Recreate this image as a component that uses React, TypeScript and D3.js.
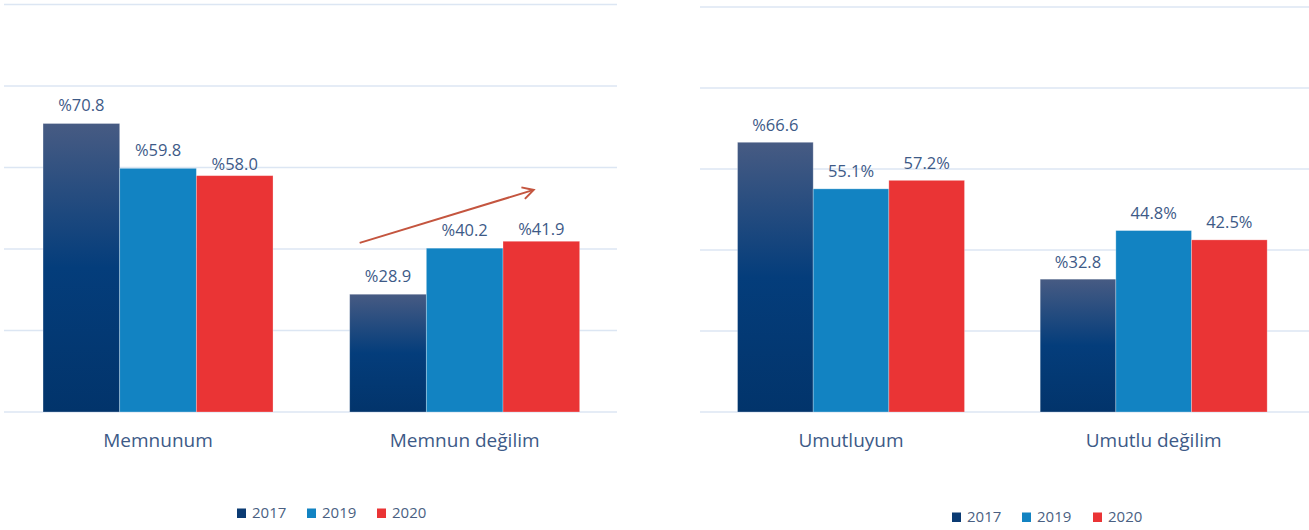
import React from "react";
import * as d3 from "d3";

const years = ["2017", "2019", "2020"];
const leftCategories = ["Memnunum", "Memnun değilim"];
const leftValues = [
  [70.8, 59.8, 58.0],
  [28.9, 40.2, 41.9],
];
const leftLabels = [
  ["%70.8", "%59.8", "%58.0"],
  ["%28.9", "%40.2", "%41.9"],
];
const rightCategories = ["Umutluyum", "Umutlu değilim"];
const rightValues = [
  [66.6, 55.1, 57.2],
  [32.8, 44.8, 42.5],
];
const rightLabels = [
  ["%66.6", "55.1%", "57.2%"],
  ["%32.8", "44.8%", "42.5%"],
];
const yTicks = [0, 20, 40, 60, 80, 100];

const W = 1309;
const H = 530;
const FONT = "'Open Sans', sans-serif";
const TEXT = "#3D5A87";
const GRID = "#DCE6F3";
const FILLS = ["url(#grad2017)", "#1283C2", "#EA3435"];
const LEG_FILLS = ["#0B3B73", "#1283C2", "#EA3435"];

type PanelProps = {
  cats: string[];
  vals: number[][];
  labels: string[][];
  xRange: [number, number];
  yRange: [number, number];
  gridX: [number, number];
  labelGap: number[];
  legendX: number[];
  legendBaseline: number;
  arrow?: boolean;
};

function Panel(p: PanelProps) {
  const x0 = d3.scaleBand<string>().domain(p.cats).range(p.xRange).padding(0);
  const band = x0.bandwidth();
  const x1 = d3.scaleBand<string>().domain(years).range([0, band * 0.75]).padding(0);
  const y = d3.scaleLinear().domain([0, 100]).range(p.yRange);

  let arrowEl = null;
  if (p.arrow) {
    const gx = (x0(p.cats[1]) as number) + band * 0.125;
    const sx = gx + 10;
    const sy = y(41.5);
    const ex = gx + band * 0.75 - 46;
    const ey = y(54.5);
    arrowEl = (
      <line x1={sx} y1={sy} x2={ex} y2={ey} stroke="#C4553F" strokeWidth={2} markerEnd="url(#arrowHead)" />
    );
  }

  return (
    <g>
      {yTicks.map((t) => (
        <line key={t} x1={p.gridX[0]} x2={p.gridX[1]} y1={y(t)} y2={y(t)} stroke={GRID} strokeWidth={1.6} />
      ))}
      {p.cats.map((c, ci) => {
        const gx = (x0(c) as number) + band * 0.125;
        return (
          <g key={c}>
            {years.map((yr, si) => {
              const v = p.vals[ci][si];
              const bx = gx + (x1(yr) as number);
              const bw = x1.bandwidth();
              return (
                <g key={yr}>
                  <rect x={bx} y={y(v)} width={bw} height={y(0) - y(v)} fill={FILLS[si]} stroke="#ffffff" strokeOpacity={0.35} strokeWidth={0.8} />
                  <text x={bx + bw / 2} y={y(v) - p.labelGap[si]} textAnchor="middle" fontFamily={FONT} fontSize={16.5} fill={TEXT}>
                    {p.labels[ci][si]}
                  </text>
                </g>
              );
            })}
            <text x={(x0(c) as number) + band / 2} y={447} textAnchor="middle" fontFamily={FONT} fontSize={19} fill={TEXT}>
              {c}
            </text>
          </g>
        );
      })}
      {arrowEl}
      {years.map((yr, i) => (
        <g key={yr}>
          <rect x={p.legendX[i]} y={p.legendBaseline - 9.5} width={9} height={9.5} fill={LEG_FILLS[i]} />
          <text x={p.legendX[i] + 15} y={p.legendBaseline} fontFamily={FONT} fontSize={15} fill="#4A5F82">
            {yr}
          </text>
        </g>
      ))}
    </g>
  );
}

export default function App() {
  return (
    <svg width={W} height={H} style={{ position: "absolute", left: 0, top: 0, background: "#ffffff" }}>
      <defs>
        <linearGradient id="grad2017" x1="0" y1="0" x2="0" y2="1">
          <stop offset="0" stopColor="#475B83" />
          <stop offset="0.5" stopColor="#043D7B" />
          <stop offset="1" stopColor="#02346B" />
        </linearGradient>
        <marker id="arrowHead" viewBox="0 0 14 14" refX="12" refY="7" markerWidth="14" markerHeight="14" markerUnits="userSpaceOnUse" orient="auto">
          <path d="M1,1 L12,7 L1,13" fill="none" stroke="#C4553F" strokeWidth={2} />
        </marker>
      </defs>
      <Panel
        cats={leftCategories}
        vals={leftValues}
        labels={leftLabels}
        xRange={[4.7, 618]}
        yRange={[412, 4.5]}
        gridX={[4, 617]}
        labelGap={[12.5, 12.5, 6]}
        legendX={[237, 307, 377]}
        legendBaseline={518}
        arrow
      />
      <Panel
        cats={rightCategories}
        vals={rightValues}
        labels={rightLabels}
        xRange={[699.7, 1305]}
        yRange={[412, 7]}
        gridX={[700, 1309]}
        labelGap={[11.5, 12, 11.5]}
        legendX={[952, 1022, 1093]}
        legendBaseline={522}
      />
    </svg>
  );
}
